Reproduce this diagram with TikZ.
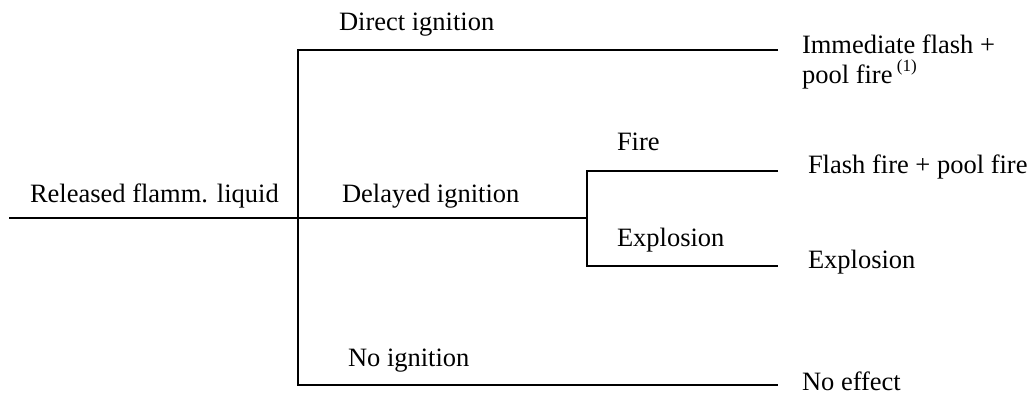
\documentclass[tikz,border=0pt]{standalone}
\usepackage{fontspec}
\setmainfont{Liberation Serif}
\begin{document}
\begin{tikzpicture}[x=1pt,y=-1pt,
  branch/.style={line width=2pt},
  lbl/.style={anchor=base west,inner sep=0pt,outer sep=0pt,font=\fontsize{26.5}{30}\selectfont}]
\useasboundingbox (0,0) rectangle (1035,394);
% junction coordinates
\coordinate (r0) at (9,218);
\coordinate (j1) at (298,218);
\coordinate (t1) at (298,50);
\coordinate (t2) at (778,50);
\coordinate (b1) at (298,385);
\coordinate (b2) at (778,385);
\coordinate (j2) at (587,218);
\coordinate (f1) at (587,171);
\coordinate (f2) at (778,171);
\coordinate (e1) at (587,266);
\coordinate (e2) at (778,266);
% connectors
\draw[branch] (r0) -- (j1);
\draw[branch] (t2) -- (t1) -- (b1) -- (b2);
\draw[branch] (j1) -- (j2);
\draw[branch] (f2) -- (f1) -- (e1) -- (e2);
% labels
\node[lbl] (rel) at (30,202) {Released flamm. liquid};
\node[lbl] (dir) at (339,30) {Direct ignition};
\node[lbl] (del) at (342,202) {Delayed ignition};
\node[lbl] (noi) at (348,366) {No ignition};
\node[lbl] (fir) at (617,150) {Fire};
\node[lbl] (exb) at (617,246) {Explosion};
\node[lbl] (imm) at (802,53) {Immediate flash +};
\node[lbl] (pool) at (802,83) {pool fire\,\raisebox{0.45em}{\fontsize{17}{17}\selectfont(1)}};
\node[lbl] (ffp) at (808,173) {Flash fire + pool fire};
\node[lbl] (exo) at (808,268) {Explosion};
\node[lbl,text depth=0pt] (noe) at (802,390) {No effect};
\end{tikzpicture}
\end{document}
